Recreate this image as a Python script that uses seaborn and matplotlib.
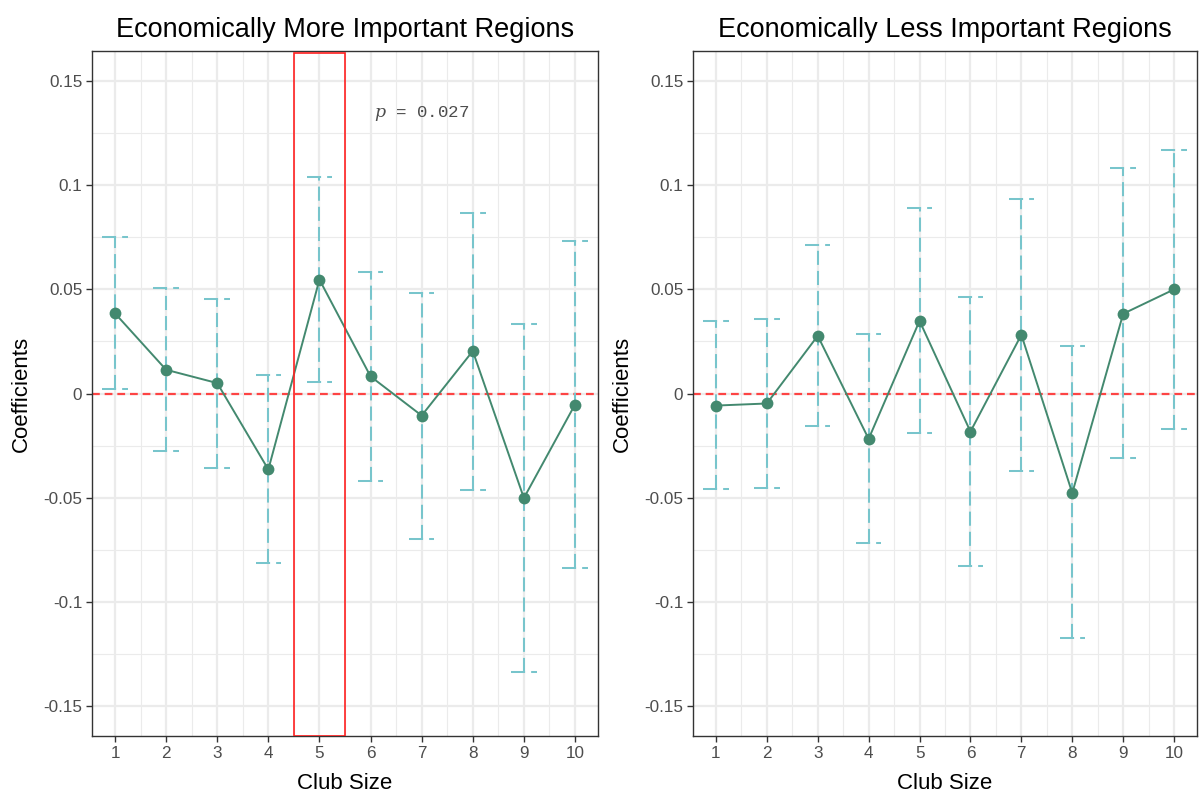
import numpy as np
import pandas as pd
import matplotlib
matplotlib.use("Agg")
import matplotlib.pyplot as plt
import seaborn as sns

# ---- data ----
club_size = [1, 2, 3, 4, 5, 6, 7, 8, 9, 10]
more_coef = [0.0385, 0.0114, 0.0050, -0.0365, 0.0547, 0.0082, -0.0106, 0.0204, -0.0502, -0.0053]
more_upper = [0.0750, 0.0508, 0.0454, 0.0090, 0.1038, 0.0584, 0.0484, 0.0867, 0.0332, 0.0731]
more_lower = [0.0022, -0.0277, -0.0357, -0.0816, 0.0055, -0.0418, -0.0697, -0.0462, -0.1340, -0.0837]
less_coef = [-0.0058, -0.0048, 0.0277, -0.0218, 0.0349, -0.0183, 0.0282, -0.0478, 0.0383, 0.0500]
less_upper = [0.0348, 0.0357, 0.0712, 0.0287, 0.0893, 0.0463, 0.0936, 0.0226, 0.1082, 0.1171]
less_lower = [-0.0460, -0.0452, -0.0155, -0.0718, -0.0189, -0.0827, -0.0373, -0.1175, -0.0312, -0.0171]
y_ticks = [-0.15, -0.1, -0.05, 0, 0.05, 0.1, 0.15]
y_tick_labels = ["-0.15", "-0.1", "-0.05", "0", "0.05", "0.1", "0.15"]
titles = ["Economically More Important Regions", "Economically Less Important Regions"]
highlight_x = 5
p_text = "$p$ = 0.027"

sns.set_theme(style="white")
plt.rcParams["font.family"] = ["Liberation Sans", "DejaVu Sans"]
plt.rcParams["mathtext.fontset"] = "dejavuserif"

LINE_C = "#43896f"
ERR_C = "#78c5cc"
GRID_C = "#ebebeb"

fig = plt.figure(figsize=(11.99, 8.01), dpi=100)
ax1 = fig.add_axes([92 / 1199, 65 / 801, 506 / 1199, 685 / 801])
ax2 = fig.add_axes([693 / 1199, 65 / 801, 504 / 1199, 685 / 801])

panels = [
    (ax1, more_coef, more_upper, more_lower, titles[0]),
    (ax2, less_coef, less_upper, less_lower, titles[1]),
]

for ax, coef, up, lo, title in panels:
    df = pd.DataFrame({"Club Size": club_size, "Coefficients": coef, "up": up, "lo": lo})
    ax.set_xlim(0.55, 10.45)
    ax.set_ylim(-0.1645, 0.1645)
    # grid
    for xm in np.arange(1.5, 10.0, 1.0):
        ax.axvline(xm, color=GRID_C, lw=0.8, zorder=0)
    for ym in [-0.125, -0.075, -0.025, 0.025, 0.075, 0.125]:
        ax.axhline(ym, color=GRID_C, lw=0.8, zorder=0)
    for xm in club_size:
        ax.axvline(xm, color=GRID_C, lw=1.6, zorder=0)
    for ym in y_ticks:
        ax.axhline(ym, color=GRID_C, lw=1.6, zorder=0)
    # zero reference
    ax.axhline(0, color="#ff3b3b", lw=1.6, ls=(0, (3.5, 2.2)), zorder=1, alpha=0.95)
    # error bars (dashed)
    ax.vlines(df["Club Size"], df["lo"], df["up"], color=ERR_C, lw=1.45,
              linestyles=[(0, (7, 3))], zorder=2)
    ax.hlines(df["up"], df["Club Size"] - 0.25, df["Club Size"] + 0.25, color=ERR_C,
              lw=1.45, linestyles=[(0, (7, 3))], zorder=2)
    ax.hlines(df["lo"], df["Club Size"] - 0.25, df["Club Size"] + 0.25, color=ERR_C,
              lw=1.45, linestyles=[(0, (7, 3))], zorder=2)
    sns.lineplot(data=df, x="Club Size", y="Coefficients", ax=ax, color=LINE_C,
                 lw=1.4, marker="o", markersize=8.5, markeredgewidth=0, zorder=3)
    ax.set_xticks(club_size)
    ax.set_xticklabels([str(c) for c in club_size], fontsize=12.3, color="#4d4d4d")
    ax.set_yticks(y_ticks)
    ax.set_yticklabels(y_tick_labels, fontsize=12.3, color="#4d4d4d")
    ax.tick_params(axis="both", which="major", length=4.5, width=1.0, color="#333333",
                   direction="out", bottom=True, left=True, pad=2.5)
    ax.set_xlabel("Club Size", fontsize=16, color="black", labelpad=9)
    ax.set_ylabel("Coefficients", fontsize=16, color="black", labelpad=8)
    ax.set_title(title, fontsize=19.5, color="black", pad=10)
    ax.grid(False)
    for s in ax.spines.values():
        s.set_color("#333333")
        s.set_linewidth(1.0)

# highlight box and p-value on left panel
ax1.axvspan(highlight_x - 0.5, highlight_x + 0.5, ymin=0.0, ymax=0.997, fill=False,
            edgecolor="#ff2020", lw=1.2, zorder=4)
ax1.text(7.0, 0.1345, p_text, family=["Liberation Mono", "DejaVu Sans Mono"],
         fontsize=12.5, color="#4d4d4d", ha="center", va="center", zorder=5)

fig.savefig("out.png", dpi=100)
